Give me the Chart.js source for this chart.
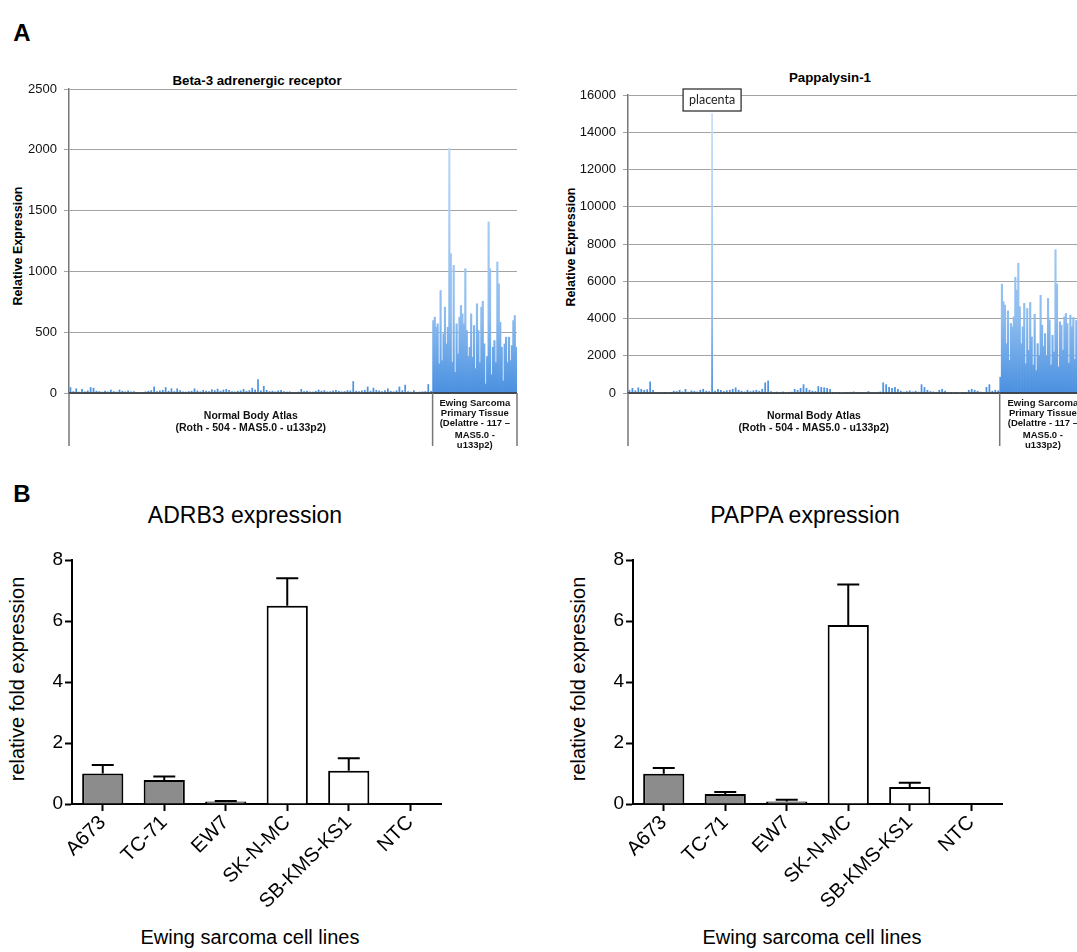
<!DOCTYPE html>
<html>
<head>
<meta charset="utf-8">
<script src="https://cdn.jsdelivr.net/npm/chart.js@4.4.1/dist/chart.umd.min.js"></script>
<style>
  body { margin: 0; width: 1077px; height: 952px; overflow: hidden; background: #fff; position: relative;
         font-family: "Liberation Sans", Arial, sans-serif; color: #000; }
  .box { position: absolute; }
  .txt { position: absolute; white-space: nowrap; line-height: 1; transform: translate(-50%, -50%); }
  .rot { transform: translate(-50%, -50%) rotate(-90deg); }
</style>
</head>
<body>
<div class="txt" style="left:22px;top:33px;font-size:24px;font-weight:bold">A</div>
<div class="txt" style="left:22px;top:494px;font-size:24px;font-weight:bold">B</div>

<div class="txt" style="left:257px;top:81px;font-size:13.3px;font-weight:bold">Beta-3 adrenergic receptor</div>
<div class="txt" style="left:830px;top:78px;font-size:13.3px;font-weight:bold">Pappalysin-1</div>
<div class="txt rot" style="left:18px;top:246px;font-size:12.5px;font-weight:bold">Relative Expression</div>
<div class="txt rot" style="left:571px;top:247px;font-size:12.5px;font-weight:bold">Relative Expression</div>

<div class="txt" style="left:245px;top:515px;font-size:23px">ADRB3 expression</div>
<div class="txt" style="left:805px;top:515px;font-size:23px">PAPPA expression</div>
<div class="txt rot" style="left:17px;top:679px;font-size:20px">relative fold expression</div>
<div class="txt rot" style="left:578px;top:679px;font-size:20px">relative fold expression</div>
<div class="txt" style="left:250px;top:937px;font-size:20px">Ewing sarcoma cell lines</div>
<div class="txt" style="left:812px;top:937px;font-size:20px">Ewing sarcoma cell lines</div>

<div class="box" style="left:0;top:60px;width:540px;height:400px"><canvas id="beta3"></canvas></div>
<div class="box" style="left:540px;top:60px;width:560px;height:400px"><canvas id="pappa"></canvas></div>
<div class="box" style="left:0;top:530px;width:540px;height:400px"><canvas id="adrb3"></canvas></div>
<div class="box" style="left:540px;top:530px;width:537px;height:400px"><canvas id="pappaQ"></canvas></div>

<script>
// ---- panel A data (microarray, Normal Body Atlas vs Ewing sarcoma) ----
const groupSizes = [504, 117];
const normalLines = ['Normal Body Atlas', '(Roth - 504 - MAS5.0 - u133p2)'];
const ewingLines = ['Ewing Sarcoma', 'Primary Tissue', '(Delattre - 117 \u2013', 'MAS5.0 -', 'u133p2)'];

const b3Ticks = [0, 500, 1000, 1500, 2000, 2500];
const b3Normal = [
  45, 12, 35, 8, 30, 10, 18, 45, 40, 15,
  12, 8, 15, 10, 25, 12, 8, 25, 15, 10,
  18, 10, 12, 5, 4, 6, 10, 15, 20, 50,
  12, 18, 22, 45, 15, 35, 12, 35, 20, 10,
  8, 12, 15, 35, 18, 10, 22, 15, 12, 28,
  20, 32, 15, 25, 30, 22, 12, 10, 15, 18,
  30, 14, 20, 40, 25, 110, 18, 55, 22, 12,
  15, 10, 18, 22, 12, 8, 10, 5, 6, 8,
  30, 12, 15, 10, 8, 14, 25, 15, 20, 10,
  12, 18, 22, 15, 10, 12, 20, 18, 95, 15,
  12, 18, 22, 50, 15, 40, 22, 18, 12, 20,
  35, 14, 10, 18, 50, 20, 65, 12, 8, 20,
  6, 8, 10, 12, 70, 15
];
const b3Ewing = [
  596, 624, 541, 569, 239, 843, 266, 486, 706, 404,
  541, 2011, 1145, 253, 1049, 170, 569, 321, 624, 720,
  651, 569, 1022, 514, 300, 376, 651, 294, 555, 200,
  734, 514, 250, 706, 754, 404, 74, 300, 1407, 1022,
  150, 376, 431, 250, 1077, 898, 582, 376, 100, 404,
  459, 250, 459, 266, 390, 596, 637, 376
];

const ppTicks = [0, 2000, 4000, 6000, 8000, 10000, 12000, 14000, 16000];
const ppNormal = [
  150, 250, 120, 280, 200, 150, 180, 600, 150,
  30, 20, 10, 20, 30, 10,
  100, 80, 150, 60, 200, 50, 120, 90, 60, 150, 200, 100, 80,
  15000,
  100, 200, 150, 80, 120, 150, 200, 280, 150,
  100, 60, 150, 80, 120, 150, 100, 200,
  550, 650,
  80, 30, 50, 20, 60, 30, 40, 50,
  200, 150, 250, 450, 250, 150, 100,
  80, 350, 300, 280, 250, 200,
  30, 20, 10, 0, 10, 20, 40, 60, 20, 10, 10, 30, 80, 20, 10, 40, 60,
  550, 450, 300, 250, 300, 200,
  100, 50, 80, 120, 60, 100, 50,
  450, 300, 150,
  80, 60, 40, 150, 200, 100, 40,
  10, 20, 10, 0, 10, 20,
  150, 200, 150, 100,
  50, 40, 300, 450,
  100, 150, 120
];
const ppEwing = [
  850, 5850, 4900, 4720, 2650, 4410, 1750, 3730, 3550, 4090,
  6215, 5530, 6970, 4630, 2650, 3550, 4810, 1570, 4540, 2290,
  4865, 3010, 1500, 4230, 1200, 2650, 2000, 5245, 3640, 2500,
  3190, 2000, 5080, 3910, 1500, 3100, 2200, 7700, 5850, 1400,
  3820, 3640, 2300, 4090, 4270, 3730, 1600, 4180, 3550, 4050,
  1800, 3900, 3000, 4500, 2000, 5000, 3500, 2500
];
const placentaLabel = 'placenta';

// ---- panel B data (qPCR) ----
const cellLines = ['A673', 'TC-71', 'EW7', 'SK-N-MC', 'SB-KMS-KS1', 'NTC'];
const foldTicks = [0, 2, 4, 6, 8];
const adrb3Mean = [1.0, 0.79, 0.08, 6.5, 1.09, 0];
const adrb3Err = [0.28, 0.11, 0.02, 0.9, 0.41, 0];
const pappaMean = [0.99, 0.33, 0.08, 5.87, 0.56, 0];
const pappaErr = [0.19, 0.06, 0.06, 1.33, 0.14, 0];

Chart.defaults.font.family = '"Liberation Sans", Arial, sans-serif';
Chart.defaults.color = '#000';
Chart.defaults.animation = false;

function blueFill(c) {
  const a = c.chart.chartArea;
  if (!a) return '#8ab8ee';
  const g = c.chart.ctx.createLinearGradient(0, a.bottom, 0, a.top);
  g.addColorStop(0, '#4a90e0');
  g.addColorStop(0.25, '#8dbcef');
  g.addColorStop(1, '#cde2fa');
  return g;
}

function atlasPoints(normal, ewing) {
  const stepN = groupSizes[0] / normal.length;
  const stepE = groupSizes[1] / ewing.length;
  return {
    normal: normal.map((v, i) => ({ x: (i + 0.5) * stepN, y: v })),
    ewing: ewing.map((v, j) => ({ x: groupSizes[0] + (j + 0.5) * stepE, y: v }))
  };
}

const atlasFrame = {
  id: 'atlasFrame',
  afterDatasetsDraw(chart) {
    const { ctx, scales: { x, y } } = chart;
    const y0 = y.getPixelForValue(0);
    const yb = y0 + 53;
    const edges = [0, groupSizes[0], groupSizes[0] + groupSizes[1]].map(v => x.getPixelForValue(v));
    ctx.save();
    ctx.strokeStyle = '#2a2a2a';
    ctx.lineWidth = 1.5;
    ctx.beginPath();
    ctx.moveTo(edges[0], y0);
    ctx.lineTo(edges[2], y0);
    ctx.stroke();
    ctx.strokeStyle = '#777';
    ctx.lineWidth = 1.5;
    edges.forEach(px => {
      ctx.beginPath();
      ctx.moveTo(px, y0);
      ctx.lineTo(px, yb);
      ctx.stroke();
    });
    ctx.fillStyle = '#111';
    ctx.textAlign = 'center';
    ctx.textBaseline = 'middle';
    ctx.font = 'bold 10.5px "Liberation Sans", Arial, sans-serif';
    const cN = (edges[0] + edges[1]) / 2;
    normalLines.forEach((t, i) => ctx.fillText(t, cN, y0 + 23 + i * 12));
    ctx.font = 'bold 9.5px "Liberation Sans", Arial, sans-serif';
    const cE = (edges[1] + edges[2]) / 2;
    const offs = [10, 20, 30, 42, 52];
    ewingLines.forEach((t, i) => ctx.fillText(t, cE, y0 + offs[i]));
    ctx.restore();
  }
};

const placentaBox = {
  id: 'placentaBox',
  afterDatasetsDraw(chart) {
    const { ctx, scales: { x, y } } = chart;
    const idx = ppNormal.indexOf(Math.max(...ppNormal));
    const px = x.getPixelForValue((idx + 0.5) * groupSizes[0] / ppNormal.length);
    const top = y.getPixelForValue(ppTicks[ppTicks.length - 1]) - 6;
    ctx.save();
    ctx.fillStyle = '#fff';
    ctx.fillRect(px - 29, top, 58, 22);
    ctx.strokeStyle = '#222';
    ctx.lineWidth = 1.2;
    ctx.strokeRect(px - 29, top, 58, 22);
    ctx.fillStyle = '#222';
    ctx.textAlign = 'center';
    ctx.textBaseline = 'middle';
    ctx.font = '12.5px Lato, "Open Sans", sans-serif';
    ctx.fillText(placentaLabel, px, top + 11);
    ctx.restore();
  }
};

function atlasChart(id, normal, ewing, ticks, axisW, pad) {
  const pts = atlasPoints(normal, ewing);
  return new Chart(document.getElementById(id), {
    type: 'bar',
    data: {
      datasets: [
        { data: pts.normal, backgroundColor: blueFill, barThickness: 1.1, grouped: false },
        { data: pts.ewing, backgroundColor: blueFill, barThickness: 1.5, grouped: false }
      ]
    },
    options: {
      responsive: true,
      maintainAspectRatio: false,
      layout: { padding: pad },
      plugins: { legend: { display: false }, tooltip: { enabled: false } },
      scales: {
        x: { type: 'linear', offset: false, min: 0, max: groupSizes[0] + groupSizes[1], display: false },
        y: {
          min: ticks[0], max: ticks[ticks.length - 1],
          ticks: { stepSize: ticks[1] - ticks[0], font: { size: 13 }, color: '#111', padding: 7,
                   callback: v => String(v) },
          grid: { color: '#a3a3a3', lineWidth: 1, tickLength: 5 },
          border: { color: '#777', width: 1.5 },
          afterFit(s) { s.width = axisW; }
        }
      }
    },
    plugins: id === 'pappa' ? [atlasFrame, placentaBox] : [atlasFrame]
  });
}

atlasChart('beta3', b3Normal, b3Ewing, b3Ticks, 69, { top: 29, right: 23, bottom: 67, left: 0 });
atlasChart('pappa', ppNormal, ppEwing, ppTicks, 88, { top: 35, right: 14, bottom: 67, left: 0 });

// ---- panel B ----
const errorCaps = {
  id: 'errorCaps',
  afterDatasetsDraw(chart, args, opts) {
    const { ctx, scales: { y } } = chart;
    const meta = chart.getDatasetMeta(0);
    const vals = chart.data.datasets[0].data;
    ctx.save();
    ctx.strokeStyle = '#000';
    ctx.lineWidth = 2;
    meta.data.forEach((bar, i) => {
      const e = opts.err[i];
      if (!e) return;
      const yt = y.getPixelForValue(vals[i] + e);
      ctx.beginPath();
      ctx.moveTo(bar.x, bar.y);
      ctx.lineTo(bar.x, yt);
      ctx.moveTo(bar.x - 11, yt);
      ctx.lineTo(bar.x + 11, yt);
      ctx.stroke();
    });
    ctx.restore();
  }
};

function qpcrChart(id, mean, err, axisW, padRight) {
  return new Chart(document.getElementById(id), {
    type: 'bar',
    data: {
      labels: cellLines,
      datasets: [{
        data: mean,
        backgroundColor: ['#8c8c8c', '#8c8c8c', '#8c8c8c', '#ffffff', '#ffffff', '#ffffff'],
        borderColor: '#000',
        borderWidth: 2,
        borderSkipped: 'bottom',
        barPercentage: 0.67,
        categoryPercentage: 1
      }]
    },
    options: {
      responsive: true,
      maintainAspectRatio: false,
      layout: { padding: { top: 30, right: padRight, bottom: 0, left: 0 } },
      plugins: { legend: { display: false }, tooltip: { enabled: false }, errorCaps: { err } },
      scales: {
        x: {
          ticks: { font: { size: 20 }, color: '#000', minRotation: 45, maxRotation: 45, padding: 0 },
          grid: { display: true, drawOnChartArea: false, offset: false, tickLength: 7, tickWidth: 2, tickColor: '#000' },
          border: { color: '#000', width: 2 },
          afterFit(s) { s.height = 126; }
        },
        y: {
          min: foldTicks[0], max: foldTicks[foldTicks.length - 1],
          ticks: { stepSize: foldTicks[1] - foldTicks[0], font: { size: 19 }, color: '#000', padding: 2 },
          grid: { display: true, drawOnChartArea: false, tickLength: 7, tickWidth: 2, tickColor: '#000' },
          border: { color: '#000', width: 2 },
          afterFit(s) { s.width = axisW; }
        }
      }
    },
    plugins: [errorCaps]
  });
}

qpcrChart('adrb3', adrb3Mean, adrb3Err, 72, 99);
qpcrChart('pappaQ', pappaMean, pappaErr, 93, 75);
</script>
</body>
</html>
